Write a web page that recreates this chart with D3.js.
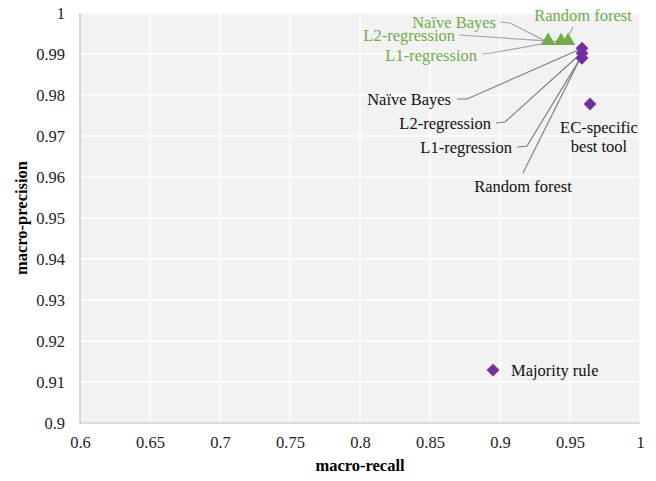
<!DOCTYPE html>
<html><head><meta charset="utf-8">
<script src="https://cdn.jsdelivr.net/npm/d3@7"></script>
<style>body{margin:0;background:#fff}svg{display:block}
svg text{font-family:"Liberation Serif","Times New Roman","DejaVu Serif",serif;}
</style>
</head><body>
<svg id="c" width="656" height="481"></svg>
<script>
// ---- data ----
const xTicks = [0.6,0.65,0.7,0.75,0.8,0.85,0.9,0.95,1];
const yTicks = [0.9,0.91,0.92,0.93,0.94,0.95,0.96,0.97,0.98,0.99,1];
const greenNames = ["Naïve Bayes","L2-regression","L1-regression","Random forest"];
const greenRecall = [0.9343,0.9345,0.9436,0.9486];
const greenPrecision = [0.9932,0.9932,0.9932,0.9932];
const purpleNames = ["Naïve Bayes","L2-regression","L1-regression","Random forest","EC-specific best tool","Majority rule"];
const purpleRecall = [0.9586,0.9586,0.9585,0.9585,0.9643,0.895];
const purplePrecision = [0.9914,0.9902,0.9890,0.9890,0.9778,0.9129];

// ---- layout ----
const W=656,H=481, L=80,R=640,T=13,B=423;
const svg=d3.select("#c");
const x=d3.scaleLinear().domain([0.6,1]).range([L,R]);
const y=d3.scaleLinear().domain([0.9,1]).range([B,T]);
const fs=16.5;

svg.append("rect").attr("x",L).attr("y",T).attr("width",R-L).attr("height",B-T).attr("fill","#f2f2f2");
// gridlines
svg.append("g").selectAll("line").data(xTicks.slice(1)).join("line")
  .attr("x1",d=>x(d)).attr("x2",d=>x(d)).attr("y1",T).attr("y2",B)
  .attr("stroke","#fff").attr("stroke-width",1.3);
svg.append("g").selectAll("line").data(yTicks.slice(1)).join("line")
  .attr("x1",L).attr("x2",R).attr("y1",d=>y(d)).attr("y2",d=>y(d))
  .attr("stroke","#fff").attr("stroke-width",1.3);
// axis lines
svg.append("line").attr("x1",L).attr("x2",L).attr("y1",T).attr("y2",B).attr("stroke","#bfbfbf").attr("stroke-width",1.2);
svg.append("line").attr("x1",L).attr("x2",R).attr("y1",B).attr("y2",B).attr("stroke","#bfbfbf").attr("stroke-width",1.2);

// tick labels via axes
const xa=d3.axisBottom(x).tickValues(xTicks).tickSize(0).tickPadding(0).tickFormat(d=>String(+d.toFixed(2)));
const gx=svg.append("g").attr("transform",`translate(0,${B})`).call(xa).attr("font-family",null);
gx.select(".domain").remove();
gx.selectAll("text").attr("dy",null).attr("y",25).style("font-size",fs+"px").attr("fill","#222");
const ya=d3.axisLeft(y).tickValues(yTicks).tickSize(0).tickPadding(0).tickFormat(d=>String(+d.toFixed(2)));
const gy=svg.append("g").attr("transform",`translate(${L},0)`).call(ya).attr("font-family",null);
gy.select(".domain").remove();
gy.selectAll("text").attr("x",-15).attr("dy","0.32em").style("font-size",fs+"px").attr("fill","#222");

// axis titles
svg.append("text").attr("x",(L+R)/2).attr("y",471).attr("text-anchor","middle")
  .style("font-size",fs+"px").attr("font-weight","bold").text("macro-recall");
svg.append("text").attr("transform",`translate(27,${(T+B)/2}) rotate(-90)`).attr("text-anchor","middle")
  .style("font-size",fs+"px").attr("font-weight","bold").text("macro-precision");

const green="#70ad47", purple="#7030a0";

// label layout: text position, anchor, leader path points before the data point
const greenLab=[
  {tx:496,ty:22,a:"end",pts:[[500,22],[510,23]]},
  {tx:455,ty:35,a:"end",pts:[[459,35]]},
  {tx:477,ty:55,a:"end",pts:[[482,54],[492,53]]},
  {tx:583,ty:15,a:"middle",pts:[[573,27]]}
];
const purpleLab=[
  {tx:451,ty:99,a:"end",pts:[[457,99],[467,99]]},
  {tx:491,ty:123,a:"end",pts:[[496,123],[505,122]]},
  {tx:512,ty:147,a:"end",pts:[[517,147],[527,146]]},
  {tx:523,ty:186,a:"middle",pts:[[523,173]]}
];

// leader lines
const line=d3.line();
greenNames.forEach((n,i)=>{
  const lb=greenLab[i];
  const px=x(greenRecall[i]), py=y(greenPrecision[i]);
  const end = i===3 ? [px-1,py-3] : [px-3,py];
  svg.append("path").attr("d",line([...lb.pts,end])).attr("fill","none").attr("stroke","#a6a6a6").attr("stroke-width",1.2);
});
purpleNames.slice(0,4).forEach((n,i)=>{
  const lb=purpleLab[i];
  const px=x(purpleRecall[i]), py=y(purplePrecision[i]);
  svg.append("path").attr("d",line([...lb.pts,[px-2,py+1]])).attr("fill","none").attr("stroke","#7f7f7f").attr("stroke-width",1.2);
});

// markers
const tri=d3.symbol().type(d3.symbolTriangle).size(88);
svg.append("g").selectAll("path").data(greenNames).join("path")
  .attr("d",tri).attr("fill",green)
  .attr("transform",(d,i)=>`translate(${x(greenRecall[i])},${y(greenPrecision[i])})`);
const dia=d3.symbol().type(d3.symbolSquare).size(82);
svg.append("g").selectAll("path").data(purpleNames).join("path")
  .attr("d",dia).attr("fill",purple)
  .attr("transform",(d,i)=>`translate(${x(purpleRecall[i])},${y(purplePrecision[i])}) rotate(45)`);

// labels
greenNames.forEach((n,i)=>{
  const lb=greenLab[i];
  svg.append("text").attr("x",lb.tx).attr("y",lb.ty).attr("dy","0.35em").attr("text-anchor",lb.a)
    .style("font-size",fs+"px").attr("fill",green).text(n);
});
purpleNames.slice(0,4).forEach((n,i)=>{
  const lb=purpleLab[i];
  svg.append("text").attr("x",lb.tx).attr("y",lb.ty).attr("dy","0.35em").attr("text-anchor",lb.a)
    .style("font-size",fs+"px").attr("fill","#111").text(n);
});
// EC-specific best tool (two lines)
const ecT=svg.append("text").attr("text-anchor","middle").style("font-size",fs+"px").attr("fill","#111");
ecT.append("tspan").attr("x",599).attr("y",127).attr("dy","0.35em").text("EC-specific");
ecT.append("tspan").attr("x",599).attr("y",146).attr("dy","0.35em").text("best tool");
svg.append("text").attr("x",x(purpleRecall[5])+18).attr("y",y(purplePrecision[5])).attr("dy","0.35em")
  .style("font-size",fs+"px").attr("fill","#111").text(purpleNames[5]);
</script>
</body></html>
